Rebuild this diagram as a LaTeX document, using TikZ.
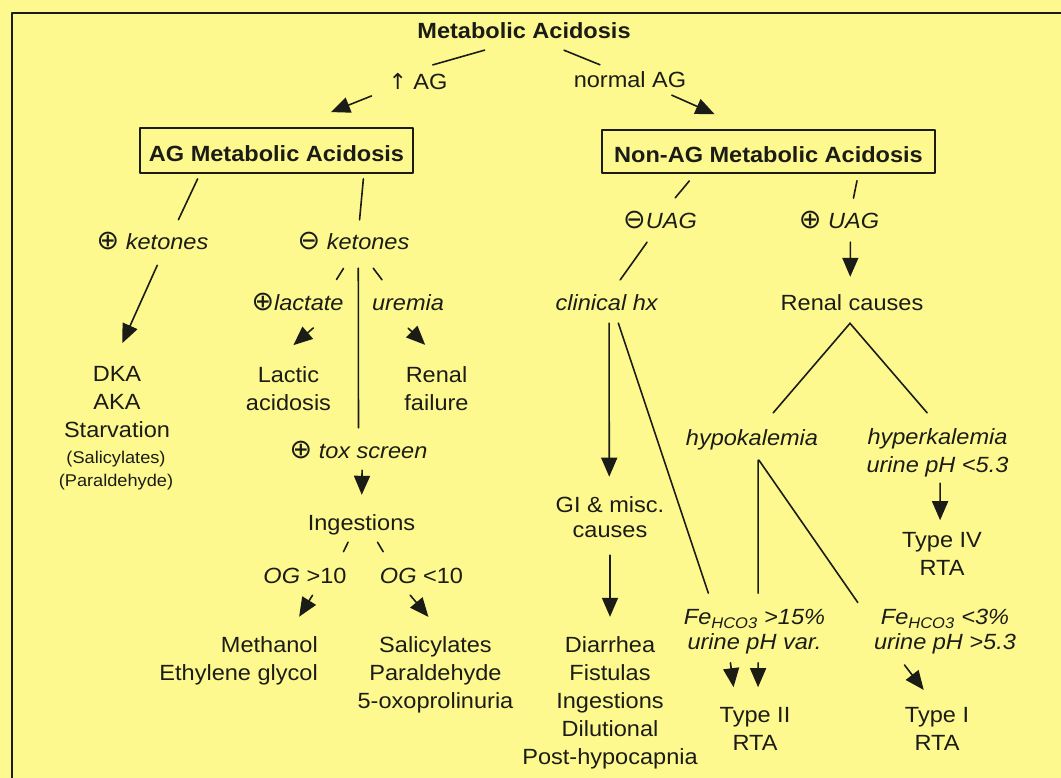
\documentclass[tikz,border=0pt]{standalone}
\usepackage{amsmath,amssymb}
\usepackage{fontspec}
\setmainfont{Liberation Sans}[FakeStretch=1.07]
\newfontfamily\symfont{DejaVu Sans}
\newcommand{\circplus}{{\symfont\fontsize{27}{28}\selectfont ⊕}}
\newcommand{\circminus}{{\symfont\fontsize{27}{28}\selectfont ⊖}}
\newcommand{\uparr}{{\symfont ↑}}
\usetikzlibrary{arrows.meta}
\definecolor{paper}{RGB}{253,249,143}
\definecolor{ink}{RGB}{28,28,22}
\tikzset{
  every picture/.style={line join=round, line cap=round, >={Triangle[length=19pt,width=16pt]}},
  txt/.style={font=\fontsize{22}{28}\selectfont, text=ink, inner sep=0pt, text height=16pt, text depth=5pt, anchor=base},
  blk/.style={font=\fontsize{22}{28}\selectfont, text=ink, inner sep=0pt, align=center},
  iblk/.style={blk, font=\fontsize{22}{28}\selectfont\itshape},
  sblk/.style={blk, font=\fontsize{17}{23}\selectfont},
  box/.style={draw=ink, line width=1.8pt, inner sep=0pt, text height=23pt, text depth=0pt, font=\fontsize{22}{28}\selectfont\bfseries, text=ink},
  ln/.style={draw=ink, line width=1.6pt},
  frame/.style={draw=ink, line width=2pt, line cap=butt},
}

\begin{document}
\begin{tikzpicture}[x=1pt,y=-1pt]
\useasboundingbox (0,0) rectangle (1061,778);
\fill[paper] (0,0) rectangle (1061,778);
\draw[frame] (12,778) -- (12,13) -- (1061,13);

\node[txt,font=\fontsize{22}{28}\selectfont\bfseries] (ma) at (524,39) {Metabolic Acidosis};
\node[txt] (upag) at (418,90) {\uparr\ AG};
\node[txt] (normag) at (630,88) {normal AG};
\node[box,minimum width=273pt,minimum height=45pt] (agbox) at (276.5,150.5) {AG Metabolic Acidosis};
\node[box,minimum width=333pt,minimum height=43pt] (nagbox) at (768.5,151.5) {Non-AG Metabolic Acidosis};

\node[txt] (kpos) at (152.5,250) {\circplus\ \textit{ketones}};
\node[txt] (kneg) at (353.5,250) {\circminus\ \textit{ketones}};
\node[blk] (dka) at (117,402) {DKA\\AKA\\Starvation};
\node[sblk] (dkasm) at (116,471.1) {(Salicylates)\\(Paraldehyde)};
\node[txt] (lact) at (297.5,311) {\circplus\textit{lactate}};
\node[txt] (urem) at (408,311) {\textit{uremia}};
\node[blk] (lacacid) at (288.5,389) {Lactic\\acidosis};
\node[blk] (renfail) at (436.5,389) {Renal\\failure};
\node[txt] (tox) at (358.5,458) {\circplus\ \textit{tox screen}};
\node[txt] (ingest) at (361.5,530) {Ingestions};
\node[txt] (oghi) at (305,583) {\textit{OG} >10};
\node[txt] (oglo) at (421.5,583) {\textit{OG} <10};
\node[blk,align=right,anchor=east] (meth) at (318,661.3) {Methanol\\Ethylene glycol};
\node[blk] (sal) at (435.5,675.3) {Salicylates\\Paraldehyde\\5-oxoprolinuria};

\node[txt] (uagneg) at (660,229) {\circminus\textit{UAG}};
\node[txt] (uagpos) at (839,229) {\circplus\ \textit{UAG}};
\node[txt] (clin) at (607,310) {\textit{clinical hx}};
\node[txt] (renc) at (852,310) {Renal causes};
\node[txt] (hypo) at (752,445) {\textit{hypokalemia}};
\node[iblk] (hyper) at (937.5,453.3) {hyperkalemia\\urine pH <5.3};
\node[blk,font=\fontsize{22}{25}\selectfont] (gi) at (610,517.5) {GI \& misc.\\causes};
\node[blk] (diar) at (610,703.3) {Diarrhea\\Fistulas\\Ingestions\\Dilutional\\Post-hypocapnia};
\node[iblk,font=\fontsize{22}{25}\selectfont\itshape] (fehi) at (754.5,631.8) {Fe\textsubscript{HCO3} >15\%\\urine pH var.};
\node[iblk,font=\fontsize{22}{25}\selectfont\itshape] (felo) at (945,631.8) {Fe\textsubscript{HCO3} <3\%\\urine pH >5.3};
\node[blk] (type2) at (755,729) {Type II\\RTA};
\node[blk] (type1) at (937,729) {Type I\\RTA};
\node[blk] (type4) at (942,554) {Type IV\\RTA};

\draw[ln,shorten <=21.6pt,shorten >=32.5pt] (ma.-150) -- (upag.147);
\draw[ln,->,shorten <=18.1pt,shorten >=40.4pt] (upag.-171.7) -- (agbox.54.6);
\draw[ln,shorten <=16pt,shorten >=18.7pt] (ma.-23.5) -- (normag.140.4);
\draw[ln,->,shorten <=4.9pt,shorten >=36.9pt] (normag.-16.5) -- (nagbox.132.6);

\draw[ln,shorten <=5.5pt,shorten >=15.5pt] (agbox.-163.5) -- (kpos.29.2);
\draw[ln,shorten <=5pt,shorten >=14pt] (agbox.-15.4) -- (kneg.66.8);
\draw[ln,->,shorten <=11pt,shorten >=25.2pt] (kpos.-49.4) -- (dka.98.4);
\draw[ln,shorten <=15.6pt,shorten >=18pt] (kneg.-99.7) -- (lact.20.9);
\draw[ln,shorten <=13pt,shorten >=14pt] (kneg.-66.8) -- (tox.north);
\draw[ln,shorten <=16.3pt,shorten >=18.8pt] (kneg.-47.1) -- (urem.144.6);
\draw[ln,->,shorten <=18pt,shorten >=33pt] (lact.-20.6) -- (lacacid.132.4);
\draw[ln,->,shorten <=17pt,shorten >=31.1pt] (urem.-138.8) -- (renfail.64.5);
\draw[ln,->,shorten <=7pt,shorten >=19pt] (tox.-71.6) -- (ingest.north);
\draw[ln,shorten <=7.8pt,shorten >=16.8pt] (ingest.-133.6) -- (oghi.19);
\draw[ln,shorten <=8.2pt,shorten >=17.5pt] (ingest.-42.9) -- (oglo.160.4);
\draw[ln,->,shorten <=8.3pt,shorten >=23.7pt] (oghi.-42.4) -- (meth.27.6);
\draw[ln,->,shorten <=9pt,shorten >=25.9pt] (oglo.-148.6) -- (sal.76.9);

\draw[ln,shorten <=9.1pt,shorten >=19.5pt] (nagbox.-163.5) -- (uagneg.76.6);
\draw[ln,shorten <=7pt,shorten >=15pt] (nagbox.-14.8) -- (uagpos.43.7);
\draw[ln,shorten <=9.8pt,shorten >=17.1pt] (uagneg.-124.8) -- (clin.73.6);
\draw[ln,->,shorten <=8pt,shorten >=17pt] (uagpos.-43.7) -- (renc.100.8);
\draw[ln,shorten <=10.5pt,shorten >=21.1pt] (renc.-65.4) -- (hypo.55.2);
\draw[ln,shorten <=10.5pt,shorten >=21.1pt] (renc.-130) -- (hyper.82.5);
\draw[ln,->,shorten <=8pt,shorten >=20pt] (clin.-79.2) -- (gi.92.8);
\draw[ln,shorten <=8.4pt,shorten >=16.9pt] (clin.-51.7) -- (fehi.151);
\draw[ln,->,shorten <=17pt,shorten >=20pt] (gi.south) -- (diar.north);
\draw[ln,shorten <=10pt,shorten >=16pt] (hypo.-60.3) -- (fehi.81.3);
\draw[ln,shorten <=12.2pt,shorten >=28.1pt] (hypo.south) -- (felo.175.4);
\draw[ln,->,shorten <=8.5pt,shorten >=20.2pt] (fehi.-138.3) -- (type2.131.6);
\draw[ln,->,shorten <=8.4pt,shorten >=20pt] (fehi.-81.3) -- (type2.82.2);
\draw[ln,->,shorten <=13.3pt,shorten >=21.8pt] (felo.-155.6) -- (type1.north);
\draw[ln,->,shorten <=5.4pt,shorten >=12pt] (hyper.-84.1) -- (type4.95.2);
\end{tikzpicture}
\end{document}
